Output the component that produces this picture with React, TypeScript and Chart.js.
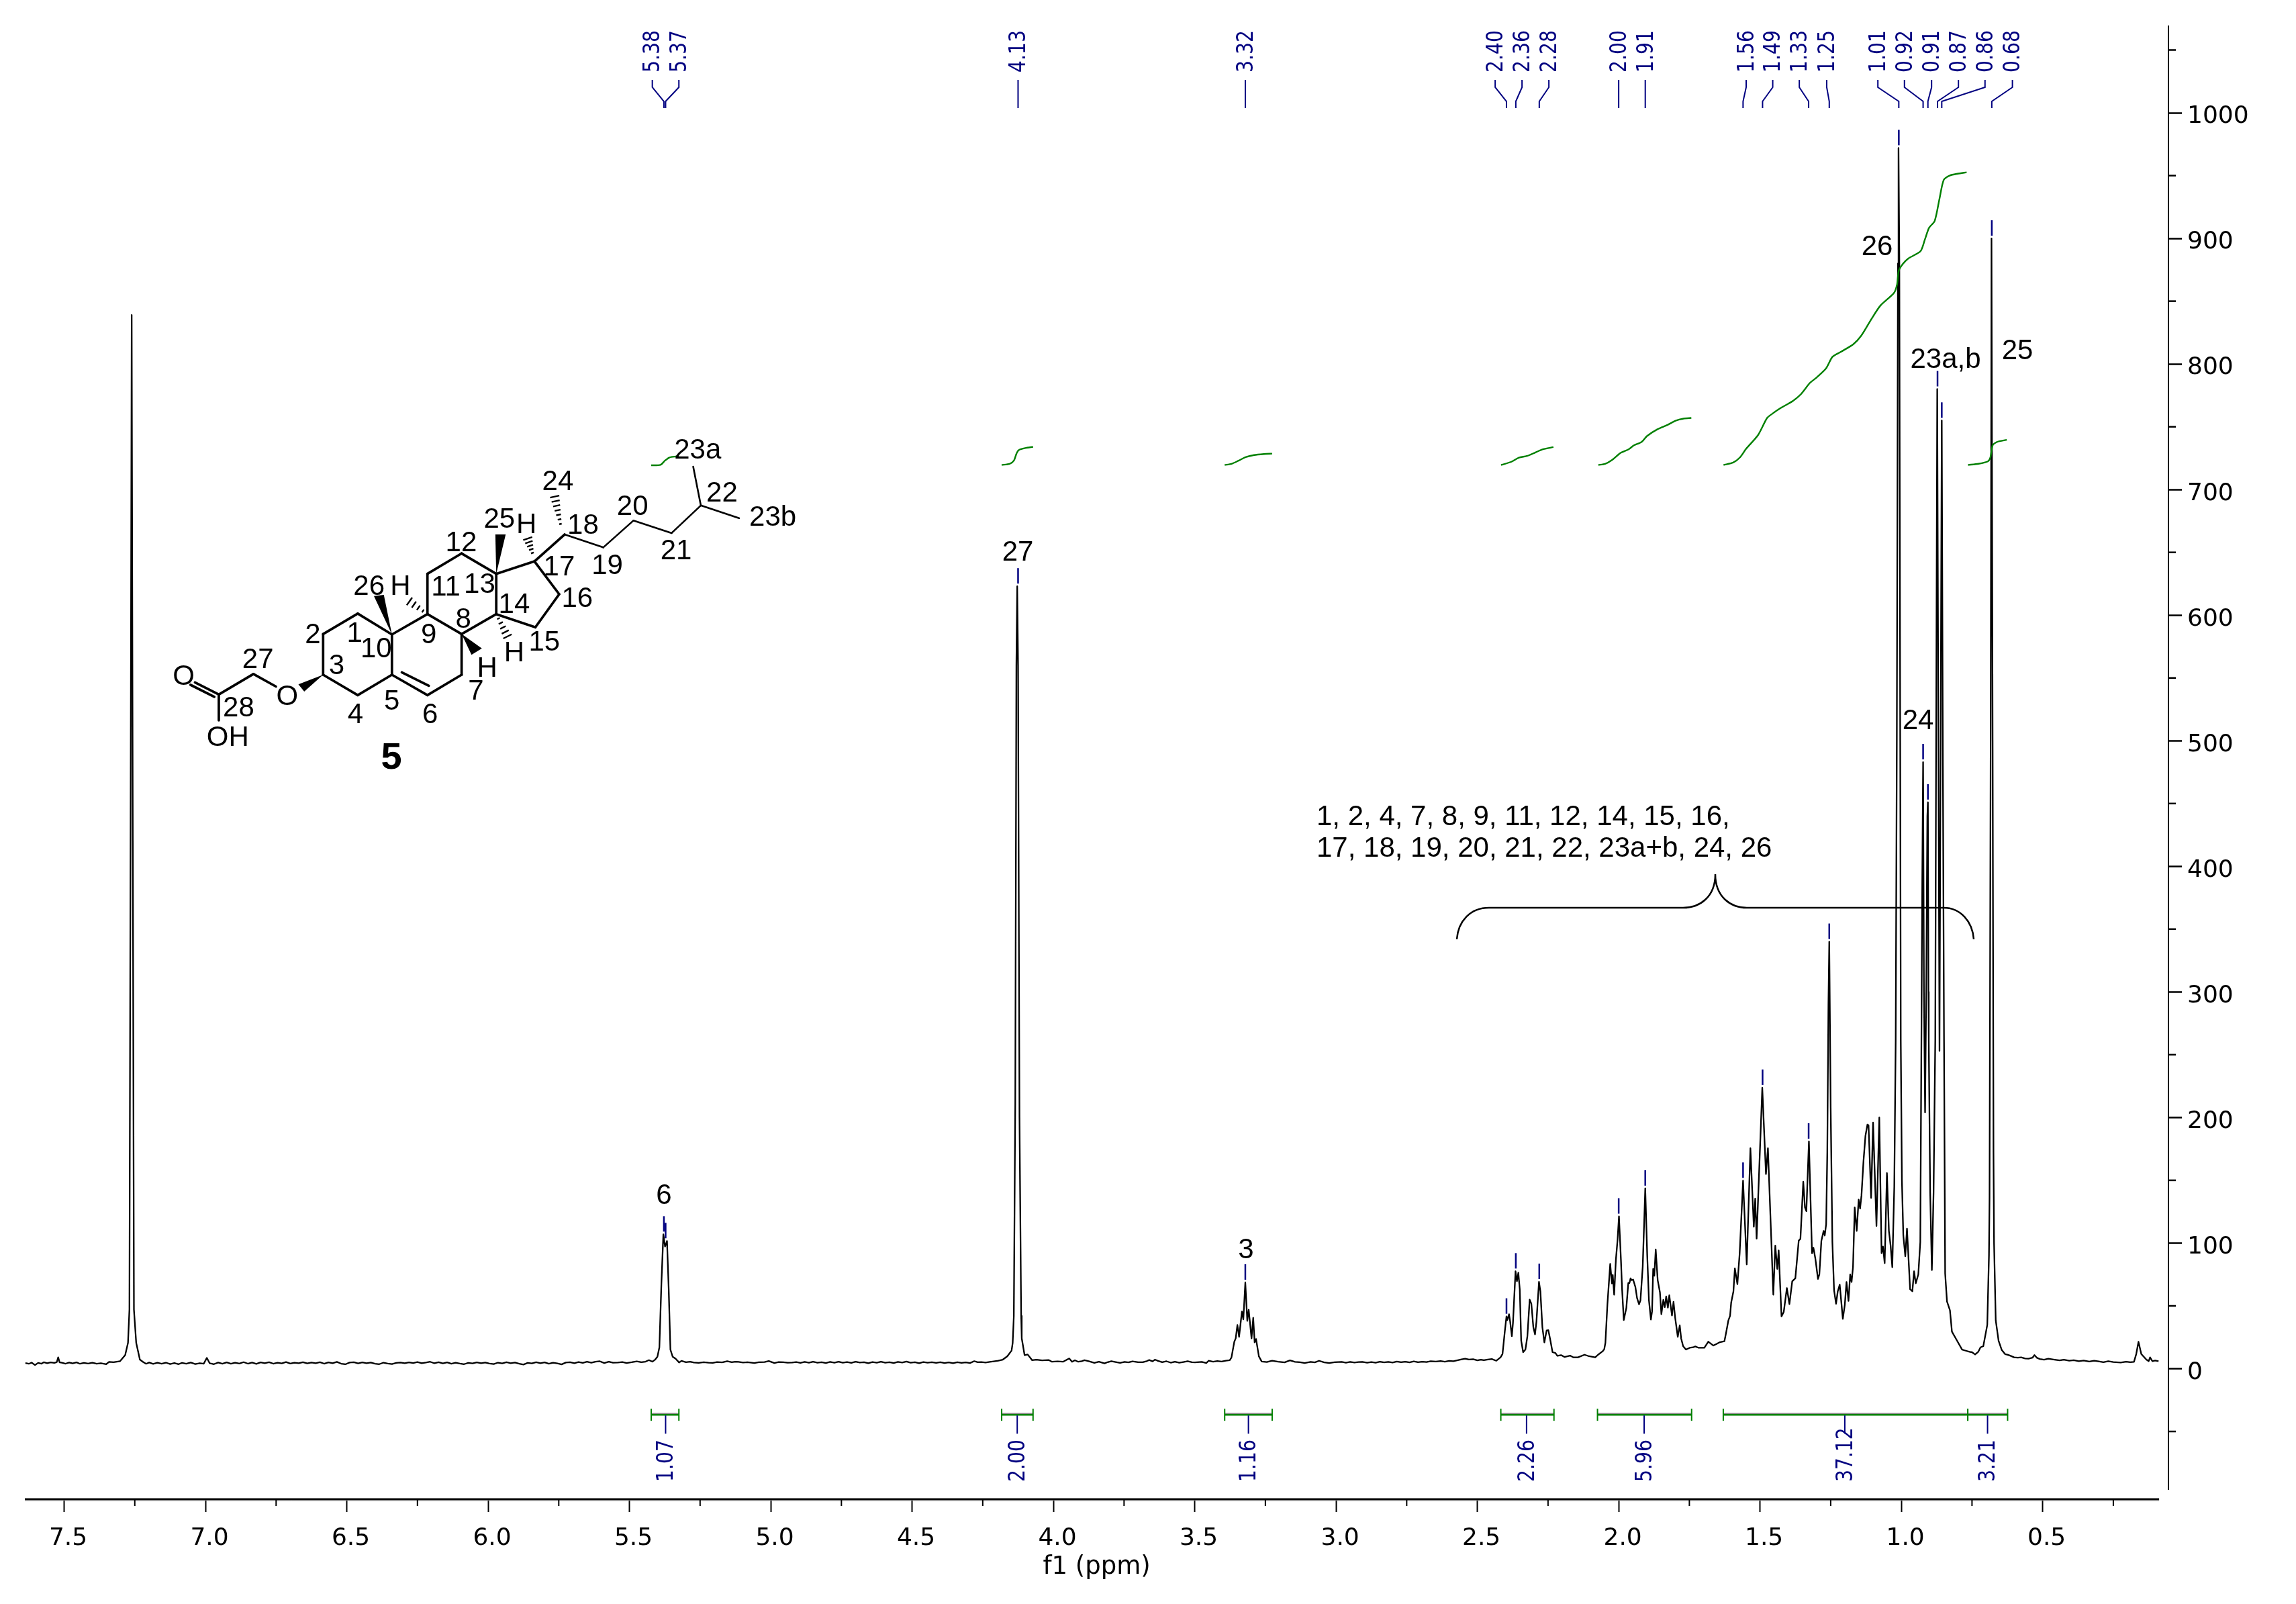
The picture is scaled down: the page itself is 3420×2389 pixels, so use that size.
import React, { useEffect, useRef } from "react";
import { Chart, registerables } from "chart.js";

Chart.register(...registerables);

/* ---------- spectrum: [ppm, intensity] ---------- */
const traceSolvent = [
  [7.637,4.5],[7.625,3.9],[7.615,4.8],[7.603,2.9],[7.592,4.6],[7.58,4],[7.572,5.1],[7.56,4.3],[7.548,5],[7.535,4.6],[7.526,5.2],[7.521,9],[7.516,5],[7.508,4.7],[7.495,4],[7.482,4.9],[7.47,4.2],[7.456,5],[7.444,3.9],[7.43,4.6],[7.415,4.1],[7.4,4.8],[7.385,3.9],[7.37,4.3],[7.351,3.6],[7.341,5.4],[7.325,5.2],[7.302,6],[7.284,10.8],[7.274,20.6],[7.269,47],[7.265,420],[7.261,839],[7.257,420],[7.253,47],[7.245,20.6],[7.232,7.2],[7.22,5.2],[7.21,3.9],[7.199,4.9],
  [7.185,3.8],[7.17,4.7],[7.155,3.9],[7.14,4.8],[7.125,3.7],[7.11,4.5],[7.095,3.6],[7.083,4.6],[7.068,3.9],[7.052,4.9],[7.036,3.7],[7.02,4.4],[7.006,4],[6.995,8.6],[6.985,4.3],
];
const traceBlankLeft = [
  [6.97,3.6],[6.955,4.9],[6.94,4],[6.925,5],[6.91,3.9],[6.895,4.8],[6.88,4.1],[6.865,5.2],[6.85,4],[6.835,4.9],[6.82,3.8],[6.805,5],[6.79,4.3],[6.775,5.1],[6.76,4],[6.745,4.7],[6.73,4.2],[6.715,5.3],[6.7,4.1],[6.685,4.8],[6.67,4.3],[6.655,5.2],[6.64,4.2],[6.625,4.9],[6.61,4.4],[6.595,5.1],[6.58,4],[6.565,5],[6.55,4.3],[6.535,5.4],[6.52,4],[6.505,3.5],[6.49,4.9],[6.475,5.2],[6.46,4.2],[6.445,5],[6.43,4.4],[6.415,4.9],[6.4,4],[6.385,3.6],[6.37,4.8],[6.355,4.1],[6.34,3.7],[6.325,4.6],[6.31,4.9],[6.295,4.3],[6.28,5],[6.265,4.5],[6.25,5.3],[6.235,4.4],[6.22,4.9],[6.205,5.5],[6.19,4.3],[6.175,5.1],[6.16,4.2],[6.145,5],[6.13,3.9],[6.115,4.7],[6.1,4.1],[6.085,3.6],[6.07,4.6],[6.055,4.2],[6.04,5],[6.025,4.3],[6.01,4.9],[5.995,4.1],[5.98,3.7],[5.965,4.8],[5.95,4.2],[5.935,5.1],[5.92,4.4],[5.905,4.9],[5.89,3.9],[5.875,3.3],[5.86,4.6],[5.845,4.2],[5.83,5.1],[5.815,4.4],[5.8,5],[5.785,3.9],[5.77,4.8],[5.755,4.2],[5.74,3.4],[5.725,4.9],[5.71,5.2],[5.695,4.4],[5.68,5.3],[5.665,4.6],[5.65,5.5],[5.635,4.7],[5.62,5.6],[5.605,5.9],
];
const traceOlefin = [
  [5.589,4.5],[5.573,5.6],[5.558,4.8],[5.541,4.9],[5.525,5.3],[5.51,4.5],[5.492,5.1],[5.474,5.8],[5.458,5.2],[5.443,5.6],[5.431,6.8],[5.419,5.6],[5.41,7],[5.401,9.5],[5.394,17],[5.387,66.9],[5.38,107],[5.374,97.2],[5.367,101.7],[5.361,63.3],[5.355,15.2],[5.347,9.5],[5.337,8],[5.324,4.9],[5.316,6.2],[5.3,5.2],[5.285,5.6],[5.272,4.9],[5.255,4.6],[5.237,5.2],[5.22,4.8],[5.205,4.6],[5.19,5.3],[5.172,5],[5.154,5.9],[5.138,5.2],[5.125,5.6],[5.114,5.4],[5.098,4.9],[5.082,5.2],[5.058,4.5],[5.042,5.2],[5.022,5.3],[5.007,6.1],[4.987,4.5],[4.972,5.3],[4.956,5.2],[4.94,4.7],[4.924,4.9],
];
const traceBlankMiddle = [
  [4.91,5.3],[4.895,4.6],[4.88,5.4],[4.865,4.7],[4.85,5.5],[4.835,4.8],[4.82,5.2],[4.805,4.5],[4.79,5.4],[4.775,4.8],[4.76,5.6],[4.745,4.7],[4.73,5.3],[4.715,4.6],[4.7,5.5],[4.685,4.9],[4.67,5.2],[4.655,4.4],[4.64,5.3],[4.625,4.8],[4.61,5.6],[4.595,4.7],[4.58,5.1],[4.565,4.5],[4.55,5.4],[4.535,4.9],[4.52,5.7],[4.505,4.8],[4.49,5.2],[4.475,4.4],[4.46,5.3],[4.445,4.8],[4.43,5.1],[4.415,4.6],[4.4,5.2],[4.385,4.5],[4.37,5],[4.355,4.3],[4.34,5.1],[4.325,4.6],[4.31,5],[4.295,4.5],[4.28,6],[4.268,5.1],[4.255,5.3],[4.24,4.9],[4.225,5.4],
];
const traceEther = [
  [4.211,5.8],[4.195,6.3],[4.179,7.2],[4.163,9.9],[4.148,14.4],[4.144,20.6],[4.14,42],[4.135,210],[4.131,560],[4.128,623],[4.125,560],[4.12,200],[4.114,42],[4.112,24.2],[4.102,10.8],[4.091,11.3],[4.075,6.7],[4.06,7.1],[4.04,6.6],[4.017,6.9],[4.005,5.5],[3.985,5.8],[3.966,5.5],[3.944,8.1],[3.934,5.5],[3.924,6.7],[3.912,5.5],[3.9,6],[3.89,6.7],[3.875,5.9],[3.855,4.6],[3.839,5.5],[3.819,4.2],[3.808,5.2],[3.795,6],[3.78,5.3],[3.764,4.6],[3.748,5.4],[3.735,5],[3.72,5.8],[3.7,5.2],[3.684,5.1],[3.67,6],[3.661,6.9],[3.649,5.8],[3.641,7.2],[3.63,6.2],[3.615,5.2],[3.6,5.9],[3.585,4.8],[3.57,5.5],[3.555,4.7],[3.54,5.3],[3.525,5.9],[3.51,5.1],
];
const traceMethine = [
  [3.499,5],[3.475,5.4],[3.459,4.5],[3.451,6.3],[3.435,5.6],[3.42,6.1],[3.405,5.7],[3.39,6.4],[3.376,6.8],[3.37,8.9],[3.36,21.4],[3.355,24.1],[3.349,34.8],[3.343,25.3],[3.333,45.5],[3.328,39.2],[3.321,68.7],[3.314,38],[3.309,46.9],[3.299,24.1],[3.293,40.5],[3.288,20.9],[3.283,23.6],[3.273,9.8],[3.263,5.7],[3.245,5.3],[3.226,6.3],[3.205,5.5],[3.182,5],[3.163,6.6],[3.145,5.4],[3.128,5.1],[3.111,4.5],[3.09,5.4],[3.075,5],[3.06,6.3],[3.042,5],[3.024,4.5],[3.005,5.1],[2.98,5.4],
];
const traceBlankRight = [
  [2.965,4.8],[2.95,5.4],[2.935,4.9],[2.92,5.3],[2.907,5.4],[2.89,4.7],[2.875,5.3],[2.86,4.8],[2.845,5.6],[2.83,5],[2.815,5.4],[2.8,4.9],[2.785,5.7],[2.77,5.1],[2.755,5.6],[2.74,5],[2.725,5.8],[2.71,5.2],[2.695,5.6],[2.68,5.3],[2.665,6],[2.647,5.7],[2.63,6.1],[2.615,5.6],[2.6,6.2],[2.585,5.9],[2.569,6.7],[2.556,7.4],[2.543,8],[2.53,7.3],[2.515,7.5],[2.5,6.6],[2.488,7.2],
];
const traceAllylic = [
  [2.477,6.7],[2.463,7.3],[2.449,7.7],[2.433,6.3],[2.418,9],[2.411,11.7],[2.403,29.5],[2.397,41.6],[2.394,38.7],[2.388,43.4],[2.384,37.5],[2.378,25.9],[2.374,36.6],[2.365,77.6],[2.36,69.6],[2.355,76.4],[2.35,63.3],[2.345,22.3],[2.338,13.1],[2.33,15.2],[2.323,25.9],[2.315,55],[2.309,51.8],[2.302,33],[2.296,27.3],[2.291,37.5],[2.282,69.2],[2.277,61.6],[2.27,33],[2.263,20.9],[2.255,30.4],[2.249,30.7],[2.243,24.1],[2.234,13.1],[2.224,12.5],[2.217,10.2],[2.204,10.8],[2.192,9.3],[2.172,10.4],[2.16,9],[2.144,9],[2.121,11.1],[2.105,9.9],[2.083,9],[2.073,11.1],[2.057,13.8],[2.051,15.6],[2.047,20.6],[2.04,50.9],
];
const traceMethyleneA = [
  [2.03,83.5],[2.024,67.8],[2.021,74.6],[2.016,58.9],[2.01,86.5],[2.004,102.6],[1.999,121.3],[1.992,86.5],[1.988,63.3],[1.982,38.7],[1.973,48.2],[1.966,68.2],[1.962,68.2],[1.958,71.9],[1.954,70.5],[1.949,71],[1.941,65.1],[1.935,56.2],[1.928,51.2],[1.923,54.4],[1.915,81.2],[1.906,143.6],[1.899,90],[1.893,54.4],[1.886,39.1],[1.882,45.5],[1.878,79.4],[1.874,74],[1.869,94.9],[1.862,70.5],[1.854,60.7],[1.849,43.4],[1.842,54.8],[1.837,49],[1.832,57.5],[1.826,48.6],[1.821,58.5],[1.8115,42.3],[1.806,53.2],[1.8,40.2],[1.791,25.4],[1.784,34.5],[1.779,24.1],[1.772,17.9],[1.762,15.2],[1.749,16.6],[1.737,17],[1.729,17.7],[1.717,16.6],[1.697,16.6],[1.683,21.5],[1.665,18.4],[1.654,19.7],[1.642,21.1],[1.626,21.8],[1.62,28.6],[1.612,38.4],[1.606,42],[1.602,52.7],[1.594,61.6],[1.589,79.9],[1.58,67.3],[1.572,91.9],[1.56,149.8],
];
const traceMethyleneB = [
  [1.547,83],[1.534,175.6],[1.522,113],[1.517,135.5],[1.512,103.5],[1.492,223.8],[1.479,155],[1.472,175.6],[1.453,58.9],[1.446,98],[1.439,79.4],[1.434,94.2],[1.424,41.6],[1.416,45.2],[1.405,64.2],[1.396,51.4],[1.386,69.6],[1.375,72],[1.363,102],[1.357,103.4],[1.347,148.9],[1.341,128.4],[1.336,125.4],[1.327,181],[1.316,91.9],[1.311,96.3],[1.304,87.4],[1.295,71.4],[1.29,75],[1.283,101.7],[1.275,109.7],[1.271,106],[1.266,115],[1.262,172],[1.258,290],[1.255,340],[1.25,207.7],[1.244,100.8],[1.238,62.4],[1.231,51.7],[1.225,61.5],[1.218,66.9],[1.207,39.6],[1.2,50.9],[1.194,69],[1.187,53.9],[1.181,75],[1.176,69],[1.171,81],[1.165,128.4],[1.158,109.7],[1.151,134.6],[1.146,127.5],[1.141,138],[1.134,165],[1.127,185.4],[1.12,194.4],[1.116,193.8],[1.107,135.9],[1.1,196],[1.088,113.6],[1.078,200],[1.07,91.9],[1.065,97.2],[1.059,84],[1.051,155.7],[1.044,109.7],[1.038,98],[1.032,80.8],
];
const traceMethyls = [
  [1.025,145],[1.02,261],[1.016,500],[1.012,880],[1.01,972],[1.007,880],[1.004,500],[1.002,261],[0.998,150],[0.993,106],[0.986,89.5],[0.98,111.5],[0.969,63.3],[0.961,61.6],[0.955,77.6],[0.949,68],[0.94,75],[0.933,100.8],[0.929,261],[0.926,390],[0.923,483],[0.92,300],[0.916,204],[0.912,300],[0.908,440],[0.906,451],[0.904,300],[0.903,261],[0.898,140],[0.892,78.5],[0.886,140],[0.88,261],[0.877,500],[0.873,780],[0.869,500],[0.865,253],[0.861,500],[0.857,755],[0.853,480],[0.849,261],[0.845,75.8],[0.8385,53.5],[0.828,46.4],[0.821,29.5],[0.803,22.3],[0.785,15.2],[0.772,14.3],[0.759,13.4],[0.75,13.1],[0.739,11.3],[0.728,13.4],[0.72,17],[0.71,17.9],[0.696,34.8],[0.69,90],[0.688,136],[0.684,500],[0.681,900],[0.677,500],[0.674,172],[0.672,100],[0.666,38.4],[0.656,22.3],[0.645,15],[0.633,11.6],[0.623,11],[0.612,10.1],[0.601,9],
];
const traceRightEdge = [
  [0.588,8.8],[0.576,9],[0.562,8.1],[0.55,8],[0.536,8.7],[0.529,10.8],[0.52,8.6],[0.51,7.7],[0.495,7.2],[0.48,7.9],[0.458,7.2],[0.44,6.6],[0.425,7.2],[0.406,6.3],[0.39,6.8],[0.372,6],[0.355,6.5],[0.335,5.7],[0.318,6.4],[0.302,5.8],[0.285,5.2],[0.268,5.9],[0.25,5.3],[0.224,4.9],[0.205,5.6],[0.19,5.1],[0.177,5.4],[0.169,11.6],[0.161,21.4],[0.151,11.6],[0.133,7.2],[0.125,6],[0.12,9],[0.112,6],[0.102,6.5],[0.09,6],
];
const spectrumTrace = [
  ...traceSolvent, ...traceBlankLeft, ...traceOlefin, ...traceBlankMiddle, ...traceEther, ...traceMethine,
  ...traceBlankRight, ...traceAllylic, ...traceMethyleneA, ...traceMethyleneB, ...traceMethyls, ...traceRightEdge,
];

/* ---------- integral curves: [ppm, running integral] ---------- */
const integralOlefin = [[5.423,719.3],[5.39,719.7],[5.374,723.1],[5.358,725.6],[5.334,726.4],[5.325,726.7]];
const integralEther = [[4.183,719.6],[4.155,720.5],[4.14,723],[4.13,729],[4.122,731.5],[4.1,733],[4.072,734]];
const integralMethine = [[3.394,719.6],[3.37,720.5],[3.345,723],[3.32,725.8],[3.29,727.5],[3.255,728.3],[3.226,728.6]];
const integralAllylic = [[2.416,719.6],[2.381,722],[2.353,725.4],[2.325,726.7],[2.298,729.2],[2.27,732],[2.231,733.8]];
const integralMethyleneA = [[2.072,719.6],[2.048,720.5],[2.024,723.5],[1.993,729.2],[1.965,732],[1.946,735.2],[1.919,737.9],[1.9,742.6],[1.863,748],[1.826,751.6],[1.799,754.8],[1.771,756.5],[1.743,757]];
const integralAliphatic = [[1.629,719.6],[1.595,721.5],[1.571,725.6],[1.549,732.5],[1.507,743.4],[1.475,757],[1.457,760.3],[1.429,764.6],[1.383,770.7],[1.355,776],[1.324,784.8],[1.3,789.2],[1.266,796.6],[1.244,805.6],[1.216,809.4],[1.17,815.7],[1.142,822.5],[1.105,836.1],[1.074,846.5],[1.026,856.6],[1.015,863.4],[1.009,874.3],[0.994,879.8],[0.976,883.9],[0.932,889.9],[0.917,898.9],[0.902,908.4],[0.882,913.9],[0.865,931.6],[0.85,946.6],[0.828,950.1],[0.801,951.5],[0.769,952.6]];
const integralMethyl = [[0.764,719.6],[0.727,720.5],[0.694,722.4],[0.685,725.6],[0.677,735.2],[0.662,737.9],[0.627,739.6]];
const integralCurves = [integralOlefin, integralEther, integralMethine, integralAllylic, integralMethyleneA, integralAliphatic, integralMethyl];

/* ---------- integral bars ---------- */
const integralValues = ["1.07", "2.00", "1.16", "2.26", "5.96", "37.12", "3.21"];
const integralFrom = [5.423, 4.183, 3.394, 2.417, 2.075, 1.63, 0.765];
const integralTo = [5.325, 4.072, 3.226, 2.229, 1.742, 0.765, 0.624];
const integralCentre = [5.372, 4.128, 3.31, 2.326, 1.91, 1.2, 0.695];

/* ---------- picked peaks ---------- */
const peakLabels = ["5.38","5.37","4.13","3.32","2.40","2.36","2.28","2.00","1.91","1.56","1.49","1.33","1.25","1.01","0.92","0.91","0.87","0.86","0.68"];
const peakPpm = [5.378,5.372,4.125,3.321,2.397,2.364,2.281,2.0,1.906,1.56,1.491,1.328,1.255,1.009,0.923,0.906,0.872,0.857,0.68];
const peakHeight = [107,101.7,623,68.7,41.6,77.6,69.2,121.3,143.6,149.8,223.8,181,340,972,483,451,780,755,900];
const peakLabelPpm = [5.419,5.325,4.125,3.321,2.437,2.342,2.247,2.0,1.906,1.549,1.455,1.361,1.264,1.083,0.989,0.893,0.798,0.704,0.607];

/* ---------- axes ---------- */
const xMajorTicks = [7.5,7,6.5,6,5.5,5,4.5,4,3.5,3,2.5,2,1.5,1,0.5];
const xMinorTicks = [7.25,6.75,6.25,5.75,5.25,4.75,4.25,3.75,3.25,2.75,2.25,1.75,1.25,0.75,0.25];
const yMajorTicks = [0,100,200,300,400,500,600,700,800,900,1000];
const yMinorTicks = [-50,50,150,250,350,450,550,650,750,850,950,1050];

/* ---------- annotations ---------- */
const assignmentLines = ["1, 2, 4, 7, 8, 9, 11, 12, 14, 15, 16,", "17, 18, 19, 20, 21, 22, 23a+b, 24, 26"];
const peakAssignments: [string, number, number][] = [
  ["6", 989, 1793], ["27", 1516, 835], ["3", 1856, 1874], ["26", 2796, 380],
  ["23a,b", 2898, 548], ["25", 3005, 535], ["24", 2857, 1086],
];

/* ---------- structure sketch (drawing units) ---------- */
const ringBonds = [
  [420,1078,420,908],[420,908,497,823],[497,823,573,910],[573,910,573,1078],[573,1078,497,1163],[497,1163,420,1078],
  [573,1078,652,1163],[652,1163,728,1078],[728,1078,728,908],[728,908,652,825],[652,825,573,910],[595,1068,655,1124],
  [652,825,652,657],[652,657,728,572],[728,572,805,657],[805,657,805,825],[805,825,728,908],
  [805,825,892,880],[892,880,945,742],[945,742,890,605],[890,605,805,657],
  [890,605,957,493],[265,1075,315,1127],[188,1160,265,1075],[188,1160,188,1268],[188,1160,135,1110],[178,1170,125,1120],
];
const chainBonds = [[957,493,1043,547],[1043,547,1110,435],[1110,435,1195,487],[1195,487,1260,372],[1260,372,1243,210],[1260,372,1345,425]];
const wedges = [
  [420,1078,365,1118,378,1148],[573,910,533,750,555,745],[805,657,803,493,826,493],[728,908,750,995,773,968],
];
const hashes = [[652,825,612,772,4],[805,825,830,918,5],[888,585,875,510,5],[950,468,935,335,7]];
const structureLabels: [string, number, number][] = [
  ["26",522,705],["H",592,703],["11",693,708],["13",768,697],["12",727,523],["25",812,423],["H",872,447],["18",998,450],
  ["24",942,267],["20",1108,372],["22",1307,315],["23a",1253,135],["23b",1420,415],["19",1052,617],["21",1205,555],
  ["17",945,622],["16",985,755],["14",845,780],["15",912,937],["8",732,840],["9",655,905],["2",397,905],["1",490,900],
  ["10",538,965],["H",845,982],["H",785,1045],["3",450,1035],["27",275,1010],["O",110,1080],["O",340,1162],["7",760,1140],
  ["5",573,1182],["4",492,1238],["6",658,1238],["28",232,1210],["OH",208,1333],
];

const NAVY = "#000080";
const GREEN = "#008000";
const TEXT_FONT = '42px "Liberation Sans"';
const TICK_FAMILY = '"DejaVu Sans"';

const sx = (v: number) => 200 + v / 1.493;
const sy = (v: number) => 620 + v / 2.8;

function drawStructure(ctx: CanvasRenderingContext2D) {
  ctx.save();
  ctx.strokeStyle = "#000";
  ctx.fillStyle = "#000";
  ctx.lineCap = "round";
  ctx.lineJoin = "round";
  const bond = (b: number[]) => {
    ctx.beginPath();
    ctx.moveTo(sx(b[0]), sy(b[1]));
    ctx.lineTo(sx(b[2]), sy(b[3]));
    ctx.stroke();
  };
  ctx.lineWidth = 3.7;
  ringBonds.forEach(bond);
  ctx.lineWidth = 2.6;
  chainBonds.forEach(bond);
  wedges.forEach((w) => {
    ctx.beginPath();
    ctx.moveTo(sx(w[0]), sy(w[1]));
    ctx.lineTo(sx(w[2]), sy(w[3]));
    ctx.lineTo(sx(w[4]), sy(w[5]));
    ctx.closePath();
    ctx.fill();
  });
  ctx.lineWidth = 2.4;
  ctx.lineCap = "butt";
  hashes.forEach(([x0, y0, x1, y1, n]) => {
    const ax = sx(x0), ay = sy(y0), bx = sx(x1), by = sy(y1);
    const len = Math.hypot(bx - ax, by - ay);
    const ux = (bx - ax) / len, uy = (by - ay) / len;
    for (let i = 1; i <= n; i++) {
      const t = i / n;
      const half = 1 + 6 * t;
      const px = ax + (bx - ax) * t, py = ay + (by - ay) * t;
      ctx.beginPath();
      ctx.moveTo(px - uy * half, py + ux * half);
      ctx.lineTo(px + uy * half, py - ux * half);
      ctx.stroke();
    }
  });
  ctx.font = TEXT_FONT;
  ctx.textAlign = "center";
  ctx.textBaseline = "alphabetic";
  structureLabels.forEach(([t, x, y]) => ctx.fillText(t, sx(x), sy(y) + 14.5));
  ctx.font = 'bold 56px "Liberation Sans"';
  ctx.fillText("5", sx(572), sy(1413) + 20);
  ctx.restore();
}

const annotationPlugin = {
  id: "nmrAnnotations",
  afterDraw(chart: any) {
    const { ctx, scales } = chart;
    const x = scales.x, y = scales.y;
    const px = (v: number) => x.getPixelForValue(v);
    const py = (v: number) => y.getPixelForValue(v);
    const bottom = chart.chartArea.bottom;
    const right = chart.chartArea.right;
    const top = chart.chartArea.top;

    ctx.save();
    /* axis lines */
    ctx.strokeStyle = "#000";
    ctx.lineWidth = 3;
    ctx.beginPath();
    ctx.moveTo(px(7.639), bottom);
    ctx.lineTo(px(0.088), bottom);
    ctx.stroke();
    ctx.strokeStyle = "#888";
    ctx.lineWidth = 1;
    ctx.beginPath();
    ctx.moveTo(px(7.639), bottom + 2);
    ctx.lineTo(px(0.088), bottom + 2);
    ctx.stroke();
    ctx.strokeStyle = "#000";
    ctx.lineWidth = 2;
    ctx.beginPath();
    ctx.moveTo(right, top);
    ctx.lineTo(right, py(-96.5));
    ctx.stroke();
    /* minor ticks */
    xMinorTicks.forEach((t) => {
      ctx.beginPath();
      ctx.moveTo(px(t), bottom);
      ctx.lineTo(px(t), bottom + 10);
      ctx.stroke();
    });
    ctx.lineWidth = 2.5;
    yMinorTicks.forEach((t) => {
      ctx.beginPath();
      ctx.moveTo(right, py(t));
      ctx.lineTo(right + 11, py(t));
      ctx.stroke();
    });

    /* picked peaks */
    const rotatedText = (t: string, cx: number, startY: number) => {
      ctx.save();
      ctx.translate(cx, startY);
      ctx.rotate(-Math.PI / 2);
      ctx.scale(0.83, 1);
      ctx.font = `34px ${TICK_FAMILY}`;
      ctx.fillStyle = NAVY;
      ctx.textAlign = "left";
      ctx.textBaseline = "middle";
      ctx.fillText(t, 0, 2);
      ctx.restore();
    };
    ctx.strokeStyle = NAVY;
    peakLabels.forEach((label, i) => {
      const lx = px(peakLabelPpm[i]);
      const bx = px(peakPpm[i]);
      ctx.lineWidth = 2;
      ctx.beginPath();
      ctx.moveTo(lx, 119);
      ctx.lineTo(lx, 130);
      ctx.lineTo(bx, 151);
      ctx.lineTo(bx, 161);
      ctx.stroke();
      rotatedText(label, lx, 108);
      const tip = py(peakHeight[i]);
      ctx.lineWidth = 2.5;
      ctx.beginPath();
      ctx.moveTo(bx, tip - 4);
      ctx.lineTo(bx, tip - 27);
      ctx.stroke();
    });

    /* integral bars */
    const barY = py(-36.7);
    integralValues.forEach((label, i) => {
      const a = px(integralFrom[i]), b = px(integralTo[i]), c = px(integralCentre[i]);
      ctx.strokeStyle = "#888";
      ctx.lineWidth = 1.5;
      ctx.beginPath();
      ctx.moveTo(a, barY - 2);
      ctx.lineTo(b, barY - 2);
      ctx.stroke();
      ctx.strokeStyle = GREEN;
      ctx.lineWidth = 2.5;
      ctx.beginPath();
      ctx.moveTo(a, barY);
      ctx.lineTo(b, barY);
      ctx.stroke();
      ctx.lineWidth = 2;
      [a, b].forEach((e) => {
        ctx.beginPath();
        ctx.moveTo(e, barY - 9);
        ctx.lineTo(e, barY + 9);
        ctx.stroke();
      });
      ctx.strokeStyle = NAVY;
      ctx.beginPath();
      ctx.moveTo(c, barY + 1);
      ctx.lineTo(c, py(-51.8));
      ctx.stroke();
      rotatedText(label, c, 2207);
    });

    /* text */
    ctx.fillStyle = "#000";
    ctx.font = TEXT_FONT;
    ctx.textAlign = "center";
    ctx.textBaseline = "alphabetic";
    peakAssignments.forEach(([t, ax, ay]) => ctx.fillText(t, ax, ay));
    ctx.textAlign = "left";
    ctx.fillText(assignmentLines[0], 1961, 1229);
    ctx.fillText(assignmentLines[1], 1961, 1276);

    /* brace */
    ctx.strokeStyle = "#000";
    ctx.lineWidth = 2.5;
    ctx.beginPath();
    ctx.moveTo(2170, 1399);
    ctx.bezierCurveTo(2172, 1372, 2190, 1352, 2218, 1352);
    ctx.lineTo(2507, 1352);
    ctx.bezierCurveTo(2532, 1352, 2555, 1336, 2555, 1302);
    ctx.bezierCurveTo(2555, 1336, 2578, 1352, 2602, 1352);
    ctx.lineTo(2895, 1352);
    ctx.bezierCurveTo(2920, 1352, 2938, 1372, 2940, 1399);
    ctx.stroke();
    ctx.restore();

    drawStructure(ctx);
  },
};

export default function App() {
  const ref = useRef<HTMLCanvasElement | null>(null);
  useEffect(() => {
    document.body.style.margin = "0";
    const canvas = ref.current;
    if (!canvas) return;
    const chart = new Chart(canvas, {
      type: "line",
      data: {
        datasets: [
          ...integralCurves.map((c, i) => ({
            label: `integral ${integralValues[i]}`,
            data: c.map(([x, y]) => ({ x, y })),
            borderColor: GREEN,
            borderWidth: 2.4,
            pointRadius: 0,
            tension: 0.25,
          })),
          {
            label: "spectrum",
            data: spectrumTrace.map(([x, y]) => ({ x, y })),
            borderColor: "#000",
            borderWidth: 2.3,
            pointRadius: 0,
            tension: 0,
            borderJoinStyle: "round",
          },
        ],
      },
      options: {
        animation: false,
        responsive: false,
        devicePixelRatio: 1,
        events: [],
        layout: { padding: { left: 37, top: 38, right: 0, bottom: 0 } },
        plugins: { legend: { display: false }, tooltip: { enabled: false } },
        scales: {
          x: {
            type: "linear",
            reverse: true,
            min: 0.055,
            max: 7.639,
            afterFit: (s: any) => { s.height = 156; },
            afterBuildTicks: (s: any) => { s.ticks = xMajorTicks.map((value) => ({ value })); },
            border: { display: false },
            grid: { display: true, drawOnChartArea: false, drawTicks: true, tickLength: 19, tickColor: "#000", tickWidth: 2 },
            ticks: {
              autoSkip: false,
              maxRotation: 0,
              padding: 18,
              labelOffset: 6,
              color: "#000",
              font: { family: TICK_FAMILY, size: 36 },
              callback: (v: any) => Number(v).toFixed(1),
            },
            title: {
              display: true,
              text: "f1 (ppm)",
              color: "#000",
              font: { family: TICK_FAMILY, size: 37 },
              padding: { top: 0, bottom: 32 },
            },
          },
          y: {
            type: "linear",
            position: "right",
            min: -103.98,
            max: 1069.5,
            afterFit: (s: any) => { s.width = 190; },
            afterBuildTicks: (s: any) => { s.ticks = yMajorTicks.map((value) => ({ value })); },
            border: { display: false },
            grid: { display: true, drawOnChartArea: false, drawTicks: true, tickLength: 20, tickColor: "#000", tickWidth: 2.5 },
            ticks: {
              autoSkip: false,
              padding: 8,
              labelOffset: 6,
              color: "#000",
              font: { family: TICK_FAMILY, size: 36 },
              callback: (v: any) => String(v),
            },
          },
        },
      },
      plugins: [annotationPlugin],
    } as any);
    return () => chart.destroy();
  }, []);
  return (
    <canvas
      ref={ref}
      width={3420}
      height={2389}
      style={{ display: "block", width: 3420, height: 2389, background: "#fff" }}
    />
  );
}
